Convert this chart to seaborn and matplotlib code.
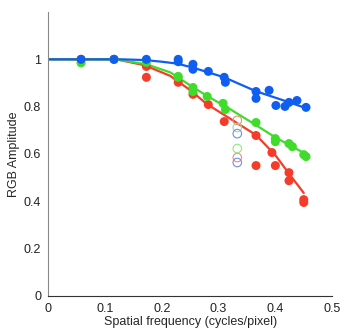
import numpy as np
import pandas as pd
import matplotlib
matplotlib.use("Agg")
import matplotlib.pyplot as plt
import seaborn as sns

# measured points (spatial frequency, amplitude) per channel
blue_x = [0.058, 0.116, 0.173, 0.229, 0.229, 0.255, 0.255, 0.282, 0.310, 0.312,
          0.366, 0.366, 0.389, 0.401, 0.417, 0.424, 0.438, 0.454]
blue_y = [1.0, 1.0, 1.0, 1.0, 0.99, 0.979, 0.958, 0.949, 0.924, 0.903,
          0.864, 0.835, 0.869, 0.805, 0.801, 0.818, 0.826, 0.797]

green_x = [0.058, 0.116, 0.173, 0.229, 0.229, 0.255, 0.255, 0.280, 0.308, 0.312,
           0.366, 0.400, 0.400, 0.424, 0.430, 0.450, 0.454]
green_y = [0.985, 1.0, 0.987, 0.928, 0.924, 0.881, 0.864, 0.843, 0.814, 0.788,
           0.733, 0.665, 0.652, 0.644, 0.631, 0.597, 0.589]

red_x = [0.058, 0.116, 0.173, 0.173, 0.229, 0.255, 0.282, 0.310, 0.366, 0.366,
         0.394, 0.400, 0.424, 0.424, 0.450, 0.450]
red_y = [1.0, 1.0, 0.97, 0.924, 0.903, 0.852, 0.809, 0.737, 0.678, 0.551,
         0.606, 0.551, 0.521, 0.487, 0.407, 0.395]

# fitted curves
blue_fit_x = [0.0, 0.13, 0.17, 0.20, 0.227, 0.255, 0.31, 0.366, 0.41, 0.455]
blue_fit_y = [1.0, 1.0, 0.997, 0.99, 0.982, 0.965, 0.924, 0.865, 0.83, 0.793]
green_fit_x = [0.0, 0.12, 0.173, 0.215, 0.25, 0.28, 0.32, 0.364, 0.40, 0.449, 0.458]
green_fit_y = [1.0, 1.0, 0.979, 0.945, 0.89, 0.845, 0.79, 0.725, 0.67, 0.606, 0.59]
red_fit_x = [0.0, 0.12, 0.17, 0.215, 0.25, 0.28, 0.32, 0.366, 0.40, 0.42, 0.45]
red_fit_y = [1.0, 1.0, 0.975, 0.93, 0.87, 0.81, 0.75, 0.68, 0.595, 0.53, 0.435]

# open circles at 1/3 cycles/pixel
open_x = [0.333, 0.333, 0.333, 0.333, 0.333, 0.333]
open_y = [0.742, 0.712, 0.686, 0.623, 0.585, 0.564]
open_ch = ["R", "G", "B", "G", "R", "B"]

colors = {"R": "#f53b2a", "G": "#3fdc2c", "B": "#0f5ef2"}
light = {"R": "#f58a80", "G": "#8fe885", "B": "#6f8fe6"}

pts = pd.concat([
    pd.DataFrame({"x": red_x, "y": red_y, "ch": "R"}),
    pd.DataFrame({"x": green_x, "y": green_y, "ch": "G"}),
    pd.DataFrame({"x": blue_x, "y": blue_y, "ch": "B"}),
])
fits = pd.concat([
    pd.DataFrame({"x": red_fit_x, "y": red_fit_y, "ch": "R"}),
    pd.DataFrame({"x": green_fit_x, "y": green_fit_y, "ch": "G"}),
    pd.DataFrame({"x": blue_fit_x, "y": blue_fit_y, "ch": "B"}),
])
opens = pd.DataFrame({"x": open_x, "y": open_y, "ch": open_ch})

sns.set_style("white")
plt.rcParams["font.family"] = ["Liberation Sans", "DejaVu Sans"]

fig = plt.figure(figsize=(3.46, 3.34), dpi=100)
ax = fig.add_axes([0.139, 0.114, 0.821, 0.85])

sns.lineplot(data=fits, x="x", y="y", hue="ch", palette=colors, sort=False,
             estimator=None, linewidth=1.6, legend=False, ax=ax, zorder=2)
sns.scatterplot(data=pts, x="x", y="y", hue="ch", palette=colors, s=42,
                linewidth=0, legend=False, ax=ax, zorder=3)
for ch in ["R", "G", "B"]:
    sub = opens[opens["ch"] == ch]
    ax.scatter(sub["x"], sub["y"], s=38, facecolors="none",
               edgecolors=light[ch], linewidths=0.8, zorder=4)

ax.set_xlim(0, 0.5)
ax.set_ylim(0, 1.2)
ax.set_xticks([0, 0.1, 0.2, 0.3, 0.4, 0.5])
ax.set_xticklabels(["0", "0.1", "0.2", "0.3", "0.4", "0.5"])
ax.set_yticks([0, 0.2, 0.4, 0.6, 0.8, 1.0])
ax.set_yticklabels(["0", "0.2", "0.4", "0.6", "0.8", "1"])
ax.tick_params(direction="in", length=3, width=0.6, labelsize=9, pad=5,
               colors="#222222")
ax.set_xlabel("Spatial frequency (cycles/pixel)", fontsize=9, labelpad=1)
ax.set_ylabel("RGB Amplitude", fontsize=9, labelpad=3)

sns.despine(ax=ax)
ax.spines["left"].set_color("#888888")
ax.spines["bottom"].set_color("#333333")
ax.spines["left"].set_linewidth(0.8)
ax.spines["bottom"].set_linewidth(0.8)

fig.savefig("out.png", dpi=100)
